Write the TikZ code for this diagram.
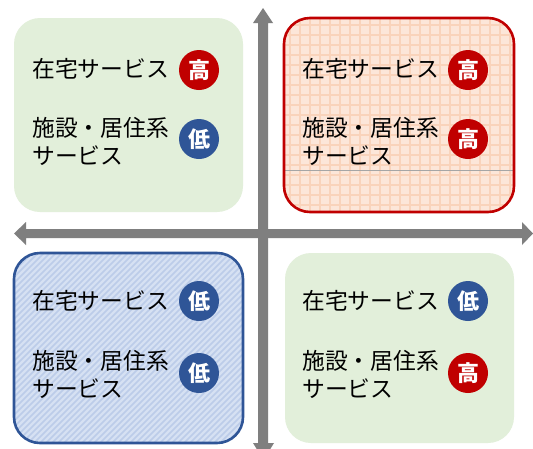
\documentclass[tikz,border=0pt]{standalone}
\usepackage{fontspec}
\newfontfamily\jp{Noto Sans CJK JP}
\definecolor{grn}{HTML}{E2EFDA}
\definecolor{peach}{HTML}{FCE6D9}
\definecolor{peachline}{HTML}{F9D3BB}
\definecolor{dred}{HTML}{C00000}
\definecolor{lblue}{HTML}{D6E1F3}
\definecolor{stripe}{HTML}{BCCCE9}
\definecolor{dblue}{HTML}{2F5597}
\definecolor{axis}{HTML}{7F7F7F}
\begin{document}
\begin{tikzpicture}[x=1pt,y=-1pt,
  lbl/.style={anchor=west, font=\jp\fontsize{22.8}{28}\selectfont, align=left, inner sep=0pt, text=black},
  badge/.style={circle, minimum size=40pt, inner sep=0pt, font=\jp\bfseries\fontsize{22}{22}\selectfont, text=white},
  hi/.style={badge, fill=dred},
  lo/.style={badge, fill=dblue},
  rr/.style={rounded corners=26pt}]
\useasboundingbox (0,0) rectangle (533,448);
\fill[white] (0,0) rectangle (533,448);
% top-left green
\fill[grn,rr] (14,18) rectangle (243,212);
% bottom-right green
\fill[grn,rr] (285,253) rectangle (514,443);
% top-right grid box
\begin{scope}
  \clip[rr] (284,18) rectangle (514,212);
  \fill[peach] (284,18) rectangle (514,212);
  \foreach \x in {290,300,...,510} \draw[peachline,line width=1.8pt] (\x,18) -- (\x,212);
  \foreach \y in {25,35,...,210} \draw[peachline,line width=1.8pt] (284,\y) -- (514,\y);
  \draw[gray!70,line width=0.6pt] (284,170) -- (514,170);
\end{scope}
\draw[dred,line width=2.6pt,rr] (284,18) rectangle (514,212);
% bottom-left striped box
\begin{scope}
  \clip[rr] (14,253) rectangle (243,443);
  \fill[lblue] (14,253) rectangle (243,443);
  \foreach \x in {-200,-194,...,250} \draw[stripe,line width=1.6pt] (\x,443) -- ++(200,-200);
\end{scope}
\draw[dblue,line width=2.6pt,rr] (14,253) rectangle (243,443);
% axes
\fill[axis] (263,8) -- (273,23) -- (268,23) -- (268,445) -- (258,445) -- (258,23) -- (253,23) -- cycle;
\fill[axis] (263.5,460) -- (274,443) -- (253,443) -- cycle;
\fill[axis] (14,233.5) -- (26,222) -- (26,229) -- (522,229) -- (522,222) -- (533,233.5) -- (522,245) -- (522,238) -- (26,238) -- (26,245) -- cycle;
% texts top-left
\node[lbl] (tl1) at (32,69) {在宅サービス};
\node[hi] (tlb1) at (199,70) {高};
\node[lbl] (tl2) at (32,141) {施設・居住系\\サービス};
\node[lo] (tlb2) at (199,139) {低};
% top-right
\node[lbl] (tr1) at (302,69) {在宅サービス};
\node[hi] (trb1) at (468,70) {高};
\node[lbl] (tr2) at (302,141) {施設・居住系\\サービス};
\node[hi] (trb2) at (468,139) {高};
% bottom-left
\node[lbl] (bl1) at (32,301) {在宅サービス};
\node[lo] (blb1) at (199,301) {低};
\node[lbl] (bl2) at (32,374) {施設・居住系\\サービス};
\node[lo] (blb2) at (199,373) {低};
% bottom-right
\node[lbl] (br1) at (302,301) {在宅サービス};
\node[lo] (brb1) at (468,301) {低};
\node[lbl] (br2) at (302,374) {施設・居住系\\サービス};
\node[hi] (brb2) at (468,373) {高};
\end{tikzpicture}
\end{document}
